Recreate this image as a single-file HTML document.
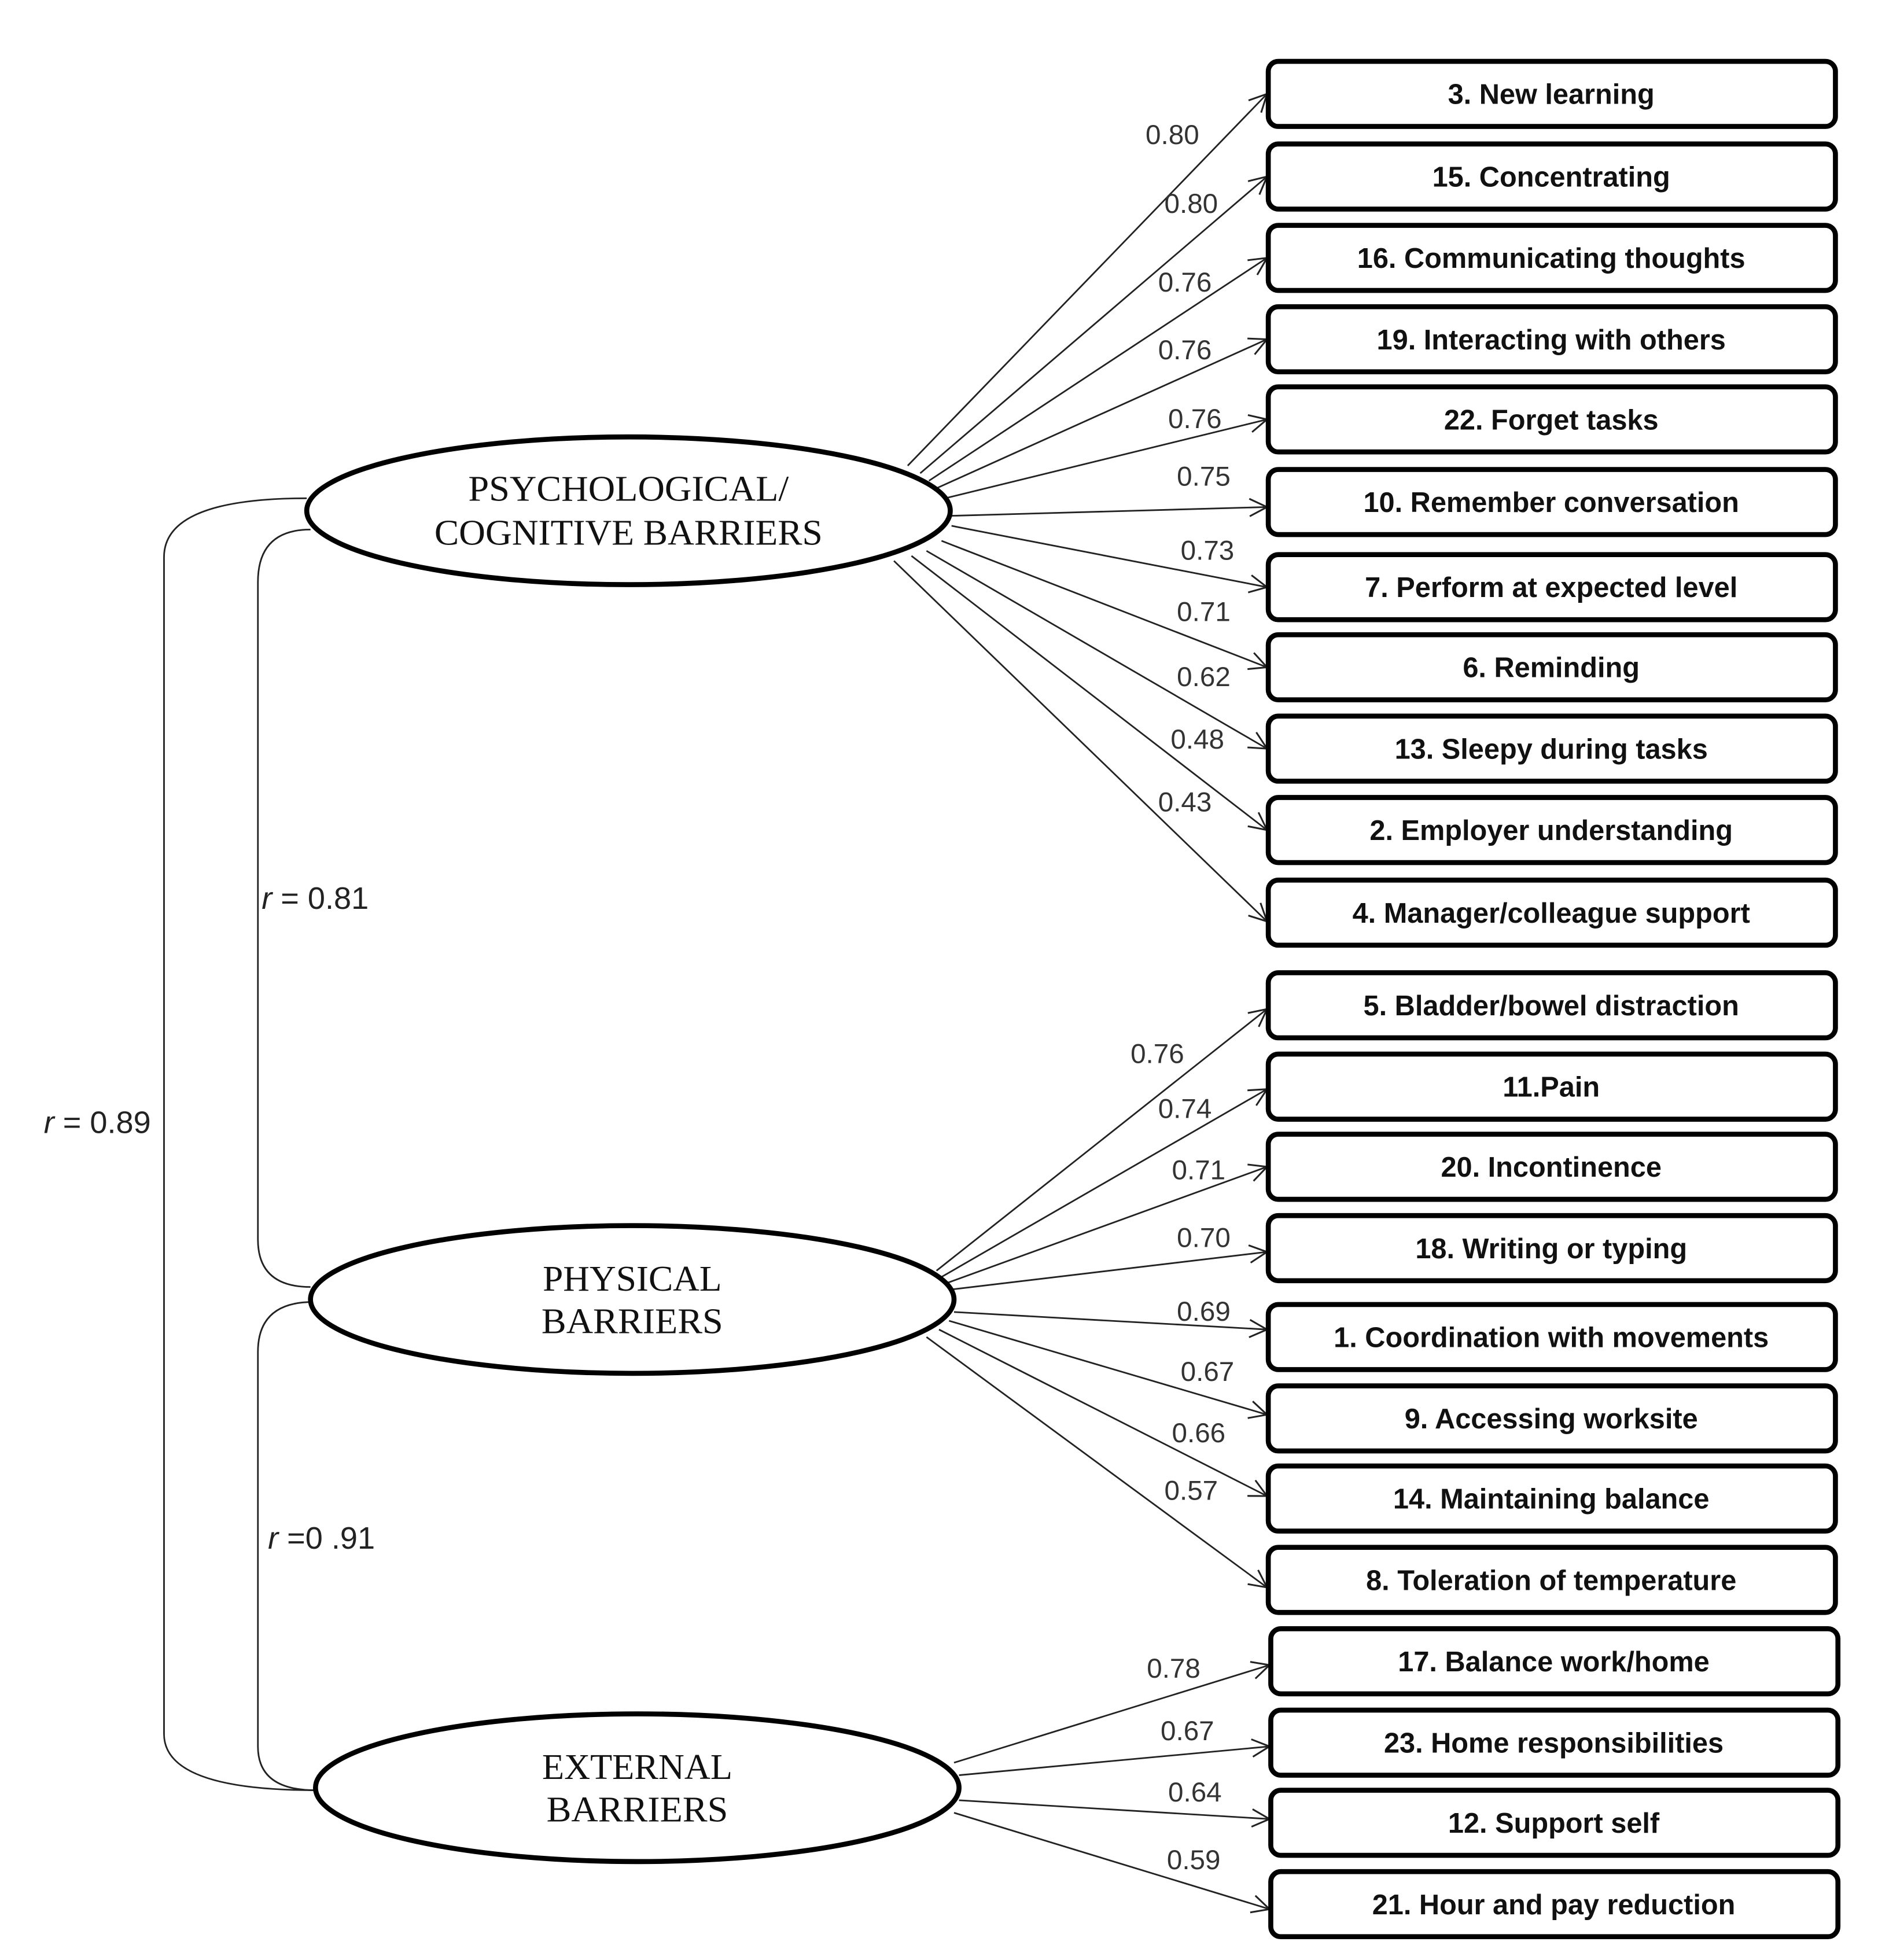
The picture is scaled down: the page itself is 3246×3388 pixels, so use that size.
<!DOCTYPE html>
<html><head><meta charset="utf-8"><style>html,body{margin:0;padding:0;background:#fff}svg{display:block}</style></head>
<body>
<svg width="3246" height="3388" viewBox="0 0 1500 1565.6" xmlns="http://www.w3.org/2000/svg">
<defs><marker id="a" markerWidth="20" markerHeight="20" refX="18" refY="10" orient="auto" markerUnits="userSpaceOnUse"><polyline points="4,3 18,10 4,17" fill="none" stroke="#222" stroke-width="1.4"/></marker></defs>
<rect width="1500" height="1565.6" fill="#fff"/>
<g fill="none" stroke="#222" stroke-width="1.3">
<path d="M245,398 Q131,398 131,445 L131,1385 Q131,1430 252,1430"/>
<path d="M248,423 Q206,423 206,465 L206,990 Q206,1028 248,1028"/>
<path d="M250,1040 Q206,1040 206,1080 L206,1395 Q206,1430 252,1430"/>
</g>
<g stroke="#222" stroke-width="1.3" marker-end="url(#a)">
<line x1="725" y1="372" x2="1012" y2="75"/><line x1="735" y1="378" x2="1012" y2="141"/><line x1="742" y1="384" x2="1012" y2="206"/><line x1="748" y1="390" x2="1012" y2="271"/><line x1="755" y1="398" x2="1012" y2="335"/><line x1="760" y1="412" x2="1012" y2="405"/><line x1="760" y1="420" x2="1012" y2="469"/><line x1="752" y1="432" x2="1012" y2="533"/><line x1="740" y1="440" x2="1012" y2="598"/><line x1="728" y1="444" x2="1012" y2="663"/><line x1="714" y1="448" x2="1012" y2="736"/>
<line x1="748" y1="1015" x2="1012" y2="806"/><line x1="752" y1="1020" x2="1012" y2="870"/><line x1="756" y1="1025" x2="1012" y2="932"/><line x1="760" y1="1030" x2="1012" y2="1000"/><line x1="762" y1="1048" x2="1012" y2="1062"/><line x1="758" y1="1055" x2="1012" y2="1130"/><line x1="750" y1="1062" x2="1012" y2="1195"/><line x1="740" y1="1068" x2="1012" y2="1268"/>
<line x1="762" y1="1408" x2="1014" y2="1330"/><line x1="766" y1="1418" x2="1014" y2="1395"/><line x1="766" y1="1438" x2="1014" y2="1453"/><line x1="762" y1="1448" x2="1014" y2="1525"/>
</g>
<g fill="#fff" stroke="#000" stroke-width="4">
<ellipse cx="502" cy="408" rx="257" ry="59"/>
<ellipse cx="505" cy="1038" rx="257" ry="59"/>
<ellipse cx="509" cy="1428" rx="257" ry="59"/>
</g>
<g font-family="Liberation Serif, serif" font-size="29" text-anchor="middle" fill="#111">
<text x="502" y="400" textLength="256" lengthAdjust="spacingAndGlyphs">PSYCHOLOGICAL/</text><text x="502" y="435" textLength="310" lengthAdjust="spacingAndGlyphs">COGNITIVE BARRIERS</text>
<text x="505" y="1031" textLength="143" lengthAdjust="spacingAndGlyphs">PHYSICAL</text><text x="505" y="1065" textLength="145" lengthAdjust="spacingAndGlyphs">BARRIERS</text>
<text x="509" y="1421" textLength="152" lengthAdjust="spacingAndGlyphs">EXTERNAL</text><text x="509" y="1455" textLength="145" lengthAdjust="spacingAndGlyphs">BARRIERS</text>
</g>
<g fill="#fff" stroke="#000" stroke-width="4">
<rect x="1013" y="49" width="453" height="52" rx="8"/><rect x="1013" y="115" width="453" height="52" rx="8"/><rect x="1013" y="180" width="453" height="52" rx="8"/><rect x="1013" y="245" width="453" height="52" rx="8"/><rect x="1013" y="309" width="453" height="52" rx="8"/><rect x="1013" y="375" width="453" height="52" rx="8"/><rect x="1013" y="443" width="453" height="52" rx="8"/><rect x="1013" y="507" width="453" height="52" rx="8"/><rect x="1013" y="572" width="453" height="52" rx="8"/><rect x="1013" y="637" width="453" height="52" rx="8"/><rect x="1013" y="703" width="453" height="52" rx="8"/>
<rect x="1013" y="777" width="453" height="52" rx="8"/><rect x="1013" y="842" width="453" height="52" rx="8"/><rect x="1013" y="906" width="453" height="52" rx="8"/><rect x="1013" y="971" width="453" height="52" rx="8"/><rect x="1013" y="1042" width="453" height="52" rx="8"/><rect x="1013" y="1107" width="453" height="52" rx="8"/><rect x="1013" y="1171" width="453" height="52" rx="8"/><rect x="1013" y="1236" width="453" height="52" rx="8"/>
<rect x="1015" y="1301" width="453" height="52" rx="8"/><rect x="1015" y="1366" width="453" height="52" rx="8"/><rect x="1015" y="1430" width="453" height="52" rx="8"/><rect x="1015" y="1495" width="453" height="52" rx="8"/>
</g>
<g font-family="Liberation Sans, sans-serif" font-weight="bold" font-size="22.5" text-anchor="middle" fill="#111">
<text x="1239" y="83">3.  New learning</text><text x="1239" y="149">15. Concentrating</text><text x="1239" y="214">16. Communicating  thoughts</text><text x="1239" y="279">19. Interacting with others</text><text x="1239" y="343">22. Forget tasks</text><text x="1239" y="409">10. Remember conversation</text><text x="1239" y="477">7. Perform at expected level</text><text x="1239" y="541">6. Reminding</text><text x="1239" y="606">13. Sleepy during tasks</text><text x="1239" y="671">2. Employer understanding</text><text x="1239" y="737">4. Manager/colleague  support</text>
<text x="1239" y="811">5. Bladder/bowel  distraction</text><text x="1239" y="876">11.Pain</text><text x="1239" y="940">20. Incontinence</text><text x="1239" y="1005">18. Writing  or typing</text><text x="1239" y="1076">1. Coordination  with movements</text><text x="1239" y="1141">9. Accessing worksite</text><text x="1239" y="1205">14. Maintaining  balance</text><text x="1239" y="1270">8. Toleration  of temperature</text>
<text x="1241" y="1335">17. Balance  work/home</text><text x="1241" y="1400">23. Home responsibilities</text><text x="1241" y="1464">12. Support  self</text><text x="1241" y="1529">21. Hour and pay reduction</text>
</g>
<g font-family="Liberation Sans, sans-serif" font-size="22" fill="#333">
<text x="915" y="115">0.80</text><text x="930" y="170">0.80</text><text x="925" y="233">0.76</text><text x="925" y="287">0.76</text><text x="933" y="342">0.76</text><text x="940" y="388">0.75</text><text x="943" y="447">0.73</text><text x="940" y="496">0.71</text><text x="940" y="548">0.62</text><text x="935" y="598">0.48</text><text x="925" y="648">0.43</text>
<text x="903" y="849">0.76</text><text x="925" y="893">0.74</text><text x="936" y="942">0.71</text><text x="940" y="996">0.70</text><text x="940" y="1055">0.69</text><text x="943" y="1103">0.67</text><text x="936" y="1152">0.66</text><text x="930" y="1198">0.57</text>
<text x="916" y="1340">0.78</text><text x="927" y="1390">0.67</text><text x="933" y="1439">0.64</text><text x="932" y="1493">0.59</text>
</g>
<g font-family="Liberation Sans, sans-serif" font-size="25" fill="#222">
<text x="209" y="726"><tspan font-style="italic">r</tspan> = 0.81</text>
<text x="35" y="905"><tspan font-style="italic">r</tspan> = 0.89</text>
<text x="214" y="1237"><tspan font-style="italic">r</tspan> =0 .91</text>
</g>
</svg>
</body></html>
